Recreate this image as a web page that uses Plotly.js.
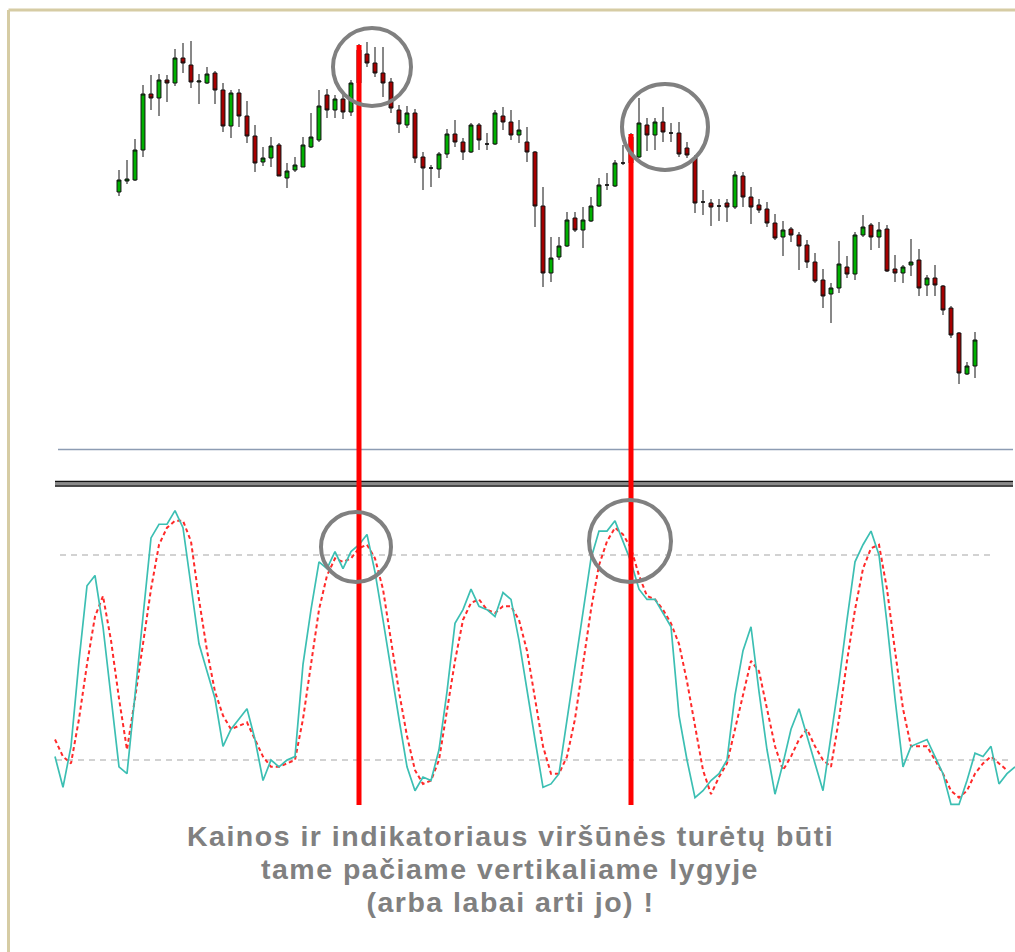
<!DOCTYPE html>
<html>
<head>
<meta charset="utf-8">
<script src="https://cdn.plot.ly/plotly-3.0.1.min.js"></script>
<style>html,body{margin:0;padding:0;background:#fff;}#chart{width:1015px;height:952px;}
#chart .annotation-text{letter-spacing:1.5px;}</style>
</head>
<body>
<div id="chart"></div>
<script>
// ---- Price candles (index 1..108) ----
const open  = [308,319,320,350,406,402,420,417,442,435,418,417,427,410,374,407,384,364,338,342,355,322,330,333,353,360,405,390,401,388,417,446,437,427,418,390,375,387,343,332,331,346,366,358,348,375,356,356,384,378,365,358,348,294,227,243,254,282,270,279,294,315,314,337,337,343,375,365,378,367,367,352,342,298,297,294,297,293,324,303,295,291,277,263,271,265,255,238,220,206,212,233,226,265,275,263,271,231,227,235,240,215,222,214,192,167,126,134];
const high  = [330,340,361,415,425,426,425,451,457,459,426,433,429,417,410,411,399,375,353,363,357,337,343,363,387,410,411,405,407,420,456,458,453,453,422,395,394,391,348,335,348,371,380,362,377,377,367,390,393,390,380,373,349,313,263,263,288,288,293,303,322,327,340,355,367,402,382,382,393,377,378,358,345,310,301,301,301,329,328,313,301,298,286,279,273,268,260,247,231,217,259,244,268,285,277,278,275,245,235,261,251,225,235,215,194,168,138,168];
const low   = [304,316,319,343,390,384,398,414,427,412,396,416,396,368,362,373,357,328,334,333,324,312,328,333,352,358,382,382,381,384,414,433,423,403,387,367,372,337,310,313,322,342,353,340,347,350,350,355,370,360,357,338,273,213,218,240,253,268,252,278,293,310,313,335,335,342,349,350,358,358,343,342,287,285,274,279,278,291,293,276,287,273,260,244,258,230,232,217,192,177,207,222,220,263,250,252,228,218,217,224,204,204,204,185,162,116,125,122];
const close = [320,321,350,406,402,420,417,442,437,418,419,426,410,374,407,384,364,337,342,354,324,329,335,355,363,394,390,401,388,417,450,437,427,417,392,376,387,342,332,332,346,366,358,348,375,360,356,387,378,365,370,348,294,227,242,254,280,270,280,294,315,315,337,337,363,377,365,378,368,367,346,345,297,298,293,294,293,325,303,293,290,277,262,270,265,254,238,219,204,212,236,226,265,273,263,270,229,227,233,238,212,222,215,190,165,127,134,160];

// ---- Stochastic oscillator, first value sits at index -7 ----
const oscStart = -7;
const stochK = [21,12,24,49,71,74,59,38,18,16,
                39,62,85,89,89,93,88,71,54,46,
                38,24,29,32,35,26,14,20,18,20,
                21,48,64,78,76,81,76,81,83,86,
                75,61,46,32,18,11,15,14,23,40,
                60,64,70,65,64,62,69,67,55,40,
                26,12,13,16,32,48,64,79,87,87,
                90,84,78,70,67,67,63,59,33,20,
                9,11,14,16,20,39,52,59,40,23,
                10,19,29,35,27,19,11,27,43,61,
                78,83,87,80,60,38,18,24,25,26,
                21,16,7,7,14,22,21,24,13,16,18];
const stochD = [26,21,19,32,48,62,68,55,38,23,
                38,54,70,83,88,90,90,84,67,52,
                40,33,29,30,31,26,21,18,18,19,
                20,32,48,64,74,79,78,79,82,83,
                79,70,55,40,27,17,13,14,20,35,
                49,61,66,67,64,63,65,65,61,52,
                38,24,16,16,21,32,48,64,77,84,
                88,86,82,74,68,67,64,60,54,43,
                30,17,10,15,19,29,39,49,46,35,
                24,17,21,26,29,24,20,18,32,49,
                64,76,82,83,70,52,35,24,24,24,
                20,16,11,9,11,16,19,21,19,17];
const levels = [80, 20];
const peakCandles = [31, 65];

const captionLines = [
  "Kainos ir indikatoriaus viršūnės turėtų būti",
  "tame pačiame vertikaliame lygyje",
  "(arba labai arti jo) !"
];

// ---- build ----
const W = 1015, H = 952;
const px = x => x / W;
const py = y => 1 - y / H;

const candleX = open.map((_, i) => i + 1);
const oscXK = stochK.map((_, i) => oscStart + i);
const oscXD = stochD.map((_, i) => oscStart + i);

const traces = [
  {
    type: 'candlestick', x: candleX, open: open, high: high, low: low, close: close,
    xaxis: 'x', yaxis: 'y', whiskerwidth: 0, hoverinfo: 'skip',
    increasing: {line: {color: '#111', width: 1}, fillcolor: '#00b000'},
    decreasing: {line: {color: '#111', width: 1}, fillcolor: '#a50000'}
  },
  {
    type: 'scatter', mode: 'lines', x: oscXD, y: stochD, xaxis: 'x', yaxis: 'y2',
    line: {color: '#ff2a2a', width: 2, dash: '4px,3px'}, hoverinfo: 'skip'
  },
  {
    type: 'scatter', mode: 'lines', x: oscXK, y: stochK, xaxis: 'x', yaxis: 'y2',
    line: {color: '#3cbfb3', width: 1.7}, hoverinfo: 'skip'
  }
];

const shapes = [];
// frame
shapes.push({type: 'line', xref: 'paper', yref: 'paper', x0: px(8.5), x1: px(8.5), y0: py(10), y1: py(952), line: {color: '#d6cca4', width: 3}});
shapes.push({type: 'line', xref: 'paper', yref: 'paper', x0: px(8.5), x1: px(1015), y0: py(10), y1: py(10), line: {color: '#d6cca4', width: 3}});
// separators
shapes.push({type: 'line', xref: 'paper', yref: 'paper', x0: px(58), x1: px(1013), y0: py(449.5), y1: py(449.5), line: {color: '#8d9cb3', width: 1.6}});
shapes.push({type: 'line', xref: 'paper', yref: 'paper', x0: px(55), x1: px(1013), y0: py(483.7), y1: py(483.7), line: {color: '#8a8a8a', width: 3}});
shapes.push({type: 'line', xref: 'paper', yref: 'paper', x0: px(55), x1: px(1013), y0: py(481.5), y1: py(481.5), line: {color: '#111', width: 1.6}});
shapes.push({type: 'line', xref: 'paper', yref: 'paper', x0: px(55), x1: px(1013), y0: py(486), y1: py(486), line: {color: '#111', width: 1.6}});
// level lines
levels.forEach((lv, j) => {
  shapes.push({type: 'line', xref: 'paper', yref: 'y2', x0: px(j === 0 ? 60 : 56), x1: px(j === 0 ? 992 : 1013), y0: lv, y1: lv,
    line: {color: '#c4c4c4', width: 1.6, dash: '6px,5px'}, layer: 'below'});
});
// red vertical markers
const topY = [45, 134];
peakCandles.forEach((c, j) => {
  shapes.push({type: 'line', xref: 'x', yref: 'paper', x0: c, x1: c, y0: py(topY[j]), y1: py(805),
    line: {color: '#ff0000', width: 5}});
});
// circles
const circles = [[372, 67, 39], [665, 127, 43], [356, 547, 35], [630, 541, 41]];
circles.forEach(([cx, cy, r]) => {
  shapes.push({type: 'circle', xref: 'paper', yref: 'paper', x0: px(cx - r), x1: px(cx + r), y0: py(cy + r), y1: py(cy - r),
    line: {color: '#808080', width: 4}});
});

const captionY = [836, 869, 902];
const annotations = captionLines.map((t, j) => ({
  xref: 'paper', yref: 'paper', x: px(510), y: py(captionY[j]), xanchor: 'center', yanchor: 'middle',
  text: t, showarrow: false,
  font: {family: 'Liberation Sans, Arial, sans-serif', size: 28.5, color: '#808080', weight: 'bold'}
}));

const layout = {
  width: W, height: H,
  margin: {l: 0, r: 0, t: 0, b: 0},
  paper_bgcolor: '#ffffff', plot_bgcolor: 'rgba(0,0,0,0)',
  showlegend: false,
  xaxis: {range: [-13.875, 113], visible: false, rangeslider: {visible: false}, fixedrange: true},
  yaxis: {range: [-452, 500], visible: false, fixedrange: true},
  yaxis2: {range: [-36.195, 242.44], overlaying: 'y', visible: false, fixedrange: true},
  shapes: shapes,
  annotations: annotations
};

Plotly.newPlot('chart', traces, layout, {displayModeBar: false, staticPlot: true});
</script>
</body>
</html>
